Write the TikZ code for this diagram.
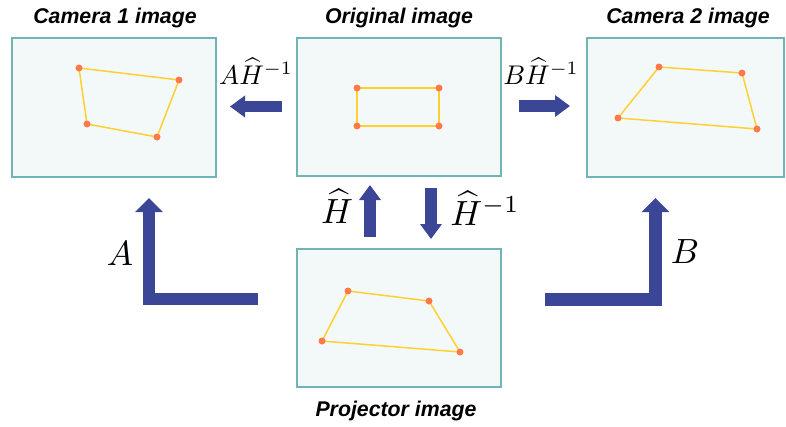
\documentclass[tikz,border=0pt]{standalone}
\usepackage{amsmath}
\usepackage{fontspec}
\newfontfamily\titlefont{Liberation Sans}
\usetikzlibrary{arrows.meta}
\definecolor{boxfill}{RGB}{243,249,249}
\definecolor{boxline}{RGB}{112,180,184}
\definecolor{arrowblue}{RGB}{60,70,150}
\definecolor{quadline}{RGB}{255,208,48}
\definecolor{dotcol}{RGB}{255,122,72}
\newcommand{\medmath}[1]{\scalebox{2.7}{$#1$}}
\newcommand{\bigmath}[1]{\scalebox{3.5}{$#1$}}
\tikzset{
  imgbox/.style={draw=boxline, fill=boxfill, line width=1.5pt, inner sep=0pt},
  titletext/.style={font=\titlefont\fontsize{21.3}{24}\selectfont\bfseries\itshape, anchor=base, inner sep=0pt},
  mathlabel/.style={anchor=base, inner sep=0pt},
  bigarrow/.style={draw=arrowblue, line width=11.5pt, line join=miter,
    -{Triangle[width=21pt, length=15pt, fill=arrowblue]}},
  quad/.style={draw=quadline, line width=1.5pt, line join=round},
  dotmark/.style={circle, fill=dotcol, inner sep=0pt, minimum size=7pt}
}
\begin{document}
\begin{tikzpicture}[x=1pt, y=-1pt]
\useasboundingbox (0,0) rectangle (786,426);
% boxes
\node[imgbox, minimum width=204pt, minimum height=139pt] (cam1) at (114,107.5) {};
\node[imgbox, minimum width=204pt, minimum height=138pt] (orig) at (399,107) {};
\node[imgbox, minimum width=197pt, minimum height=139pt] (cam2) at (685.5,107.5) {};
\node[imgbox, minimum width=204pt, minimum height=138pt] (proj) at (399,318) {};
% titles
\node[titletext] (t1) at (115,23) {Camera 1 image};
\node[titletext] (t0) at (399,23) {Original image};
\node[titletext] (t2) at (688,23) {Camera 2 image};
\node[titletext] (tp) at (396,416) {Projector image};
% quads
\coordinate (c1a) at (79,68); \coordinate (c1b) at (179,80);
\coordinate (c1c) at (157,137); \coordinate (c1d) at (87,124);
\coordinate (o1a) at (357,88); \coordinate (o1b) at (439,88);
\coordinate (o1c) at (439,126); \coordinate (o1d) at (357,126);
\coordinate (c2a) at (659,67); \coordinate (c2b) at (742,73);
\coordinate (c2c) at (757,129); \coordinate (c2d) at (618,118);
\coordinate (p1a) at (348,291); \coordinate (p1b) at (429,301);
\coordinate (p1c) at (460,352); \coordinate (p1d) at (322,341);
\foreach \q in {c1,o1,c2,p1}{
  \draw[quad] (\q a) -- (\q b) -- (\q c) -- (\q d) -- cycle;
  \foreach \k in {a,b,c,d}{ \node[dotmark] at (\q\k) {}; }
}
% straight arrows
\coordinate (la1) at (282,106.5); \coordinate (la2) at (230,106.5);
\coordinate (ra1) at (519,106); \coordinate (ra2) at (570,106);
\coordinate (ua1) at (370,237); \coordinate (ua2) at (370,185);
\coordinate (da1) at (431,188); \coordinate (da2) at (431,239);
\draw[bigarrow] (la1) -- (la2);
\draw[bigarrow] (ra1) -- (ra2);
\draw[bigarrow] (ua1) -- (ua2);
\draw[bigarrow] (da1) -- (da2);
% L arrows
\coordinate (lL1) at (258,299); \coordinate (lL2) at (149,198);
\coordinate (rL1) at (545,299.5); \coordinate (rL2) at (655.5,198);
\draw[bigarrow, -{Triangle[width=27pt, length=14pt, fill=arrowblue]}] (lL1) -| (lL2);
\draw[bigarrow, line width=12.5pt, -{Triangle[width=27pt, length=14pt, fill=arrowblue]}] (rL1) -| (rL2);
% labels
\node[mathlabel] (lAH) at (256,84) {\medmath{A\widehat{H}^{-1}}};
\node[mathlabel] (lBH) at (541,84) {\medmath{B\widehat{H}^{-1}}};
\node[mathlabel] (lH) at (337,223) {\bigmath{\widehat{H}}};
\node[mathlabel] (lHi) at (485,225) {\bigmath{\widehat{H}^{-1}}};
\node[mathlabel] (lA) at (120,265) {\bigmath{A}};
\node[mathlabel] (lB) at (685,263) {\bigmath{B}};
\end{tikzpicture}
\end{document}
